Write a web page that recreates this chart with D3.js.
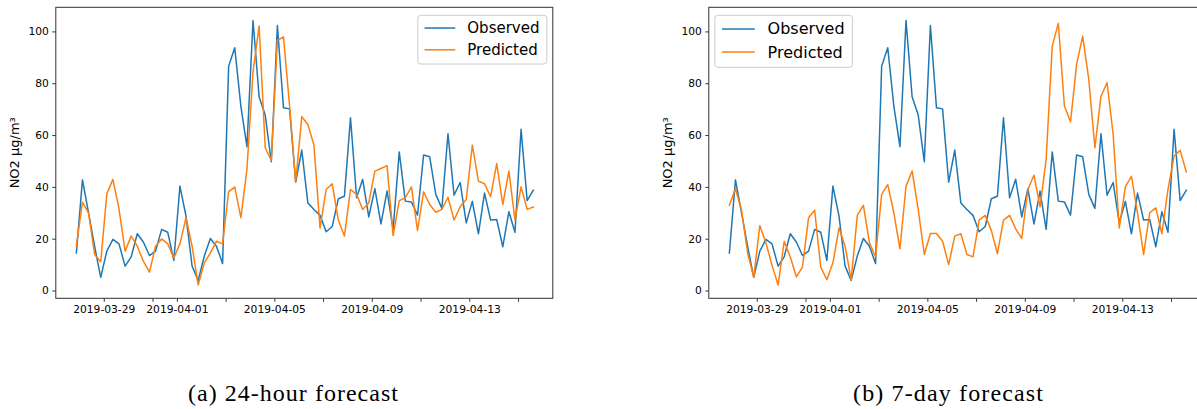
<!DOCTYPE html>
<html>
<head>
<meta charset="utf-8">
<script src="https://cdn.jsdelivr.net/npm/d3@7"></script>
<style>
  body { margin: 0; background: #fff; }
  svg { display: block; }
</style>
</head>
<body>
<svg id="chart" width="1197" height="409"></svg>
<script>
// Six-hourly NO2 series
const startTime = new Date(2019, 2, 27, 21, 0);
const stepHours = 6;
// visible time window of each panel
const xDomain = ["2019-03-27 00:45", "2019-04-16 10:15"];

const observed = [
  14.5, 42.7, 30.0, 17.0, 5.1, 15.2, 19.7, 18.0, 9.4, 13.0,
  21.9, 18.7, 13.5, 15.2, 23.6, 22.5, 11.6, 40.3, 28.7, 9.4,
  3.9, 13.3, 20.1, 17.1, 10.4, 86.6, 93.7, 71.2, 55.5, 104.2,
  74.8, 67.7, 49.7, 102.3, 70.5, 70.1, 41.8, 54.2, 33.8, 31.3,
  29.0, 22.7, 24.7, 35.4, 36.4, 66.7, 35.8, 42.9, 28.4, 39.3,
  25.7, 38.4, 23.6, 53.5, 34.5, 34.2, 29.1, 52.3, 51.6, 37.1,
  31.7, 60.5, 36.8, 41.7, 26.1, 34.4, 21.9, 37.6, 27.2, 27.4,
  16.9, 30.4, 22.5, 62.2, 34.7, 38.7
];

const predicted24h = [
  17.1, 34.1, 30.0, 13.9, 11.1, 37.3, 42.9, 31.5, 15.2, 21.0,
  17.1, 11.3, 7.1, 17.1, 19.9, 18.0, 12.6, 18.0, 28.1, 17.1,
  2.1, 10.7, 14.5, 19.0, 18.0, 38.2, 39.9, 28.1, 46.7, 84.5,
  102.1, 55.1, 50.2, 96.5, 97.9, 71.2, 41.8, 67.1, 64.1, 56.1,
  24.1, 39.0, 41.2, 27.2, 21.0, 39.0, 37.1, 31.3, 33.8, 46.1,
  47.1, 48.2, 21.2, 34.7, 35.8, 40.0, 23.2, 38.1, 33.2, 30.2,
  31.3, 36.0, 27.2, 32.3, 35.1, 56.1, 42.2, 41.2, 36.2, 49.0,
  33.2, 46.1, 27.2, 40.0, 31.3, 32.2
];

const predicted7d = [
  32.9, 39.3, 31.0, 14.5, 5.1, 25.1, 18.4, 9.8, 2.1, 19.0,
  12.9, 5.3, 9.0, 28.1, 31.0, 9.0, 4.2, 10.7, 24.2, 17.1,
  4.2, 29.0, 32.9, 18.4, 13.0, 37.1, 40.9, 30.0, 16.1, 40.3,
  46.1, 31.3, 13.9, 22.0, 22.0, 19.0, 10.0, 21.0, 21.9, 13.9,
  13.0, 27.2, 29.0, 23.2, 14.2, 27.2, 29.0, 23.8, 20.1, 39.0,
  44.5, 32.3, 50.6, 94.3, 103.1, 71.2, 65.1, 87.3, 98.2, 81.5,
  55.1, 75.0, 80.2, 60.2, 24.1, 40.0, 44.1, 30.0, 13.9, 30.0,
  31.9, 21.9, 39.0, 51.9, 54.1, 45.8
];

const yTicks = [0, 20, 40, 60, 80, 100];
const xTickDates = ["2019-03-29", "2019-03-31", "2019-04-01", "2019-04-03", "2019-04-05",
                    "2019-04-07", "2019-04-09", "2019-04-11", "2019-04-13", "2019-04-15"];
const xTickLabels = ["2019-03-29", "", "2019-04-01", "", "2019-04-05",
                     "", "2019-04-09", "", "2019-04-13", ""];
const seriesNames = ["Observed", "Predicted"];
const seriesColors = ["#1f77b4", "#ff7f0e"];
const captions = ["(a) 24-hour forecast", "(b) 7-day forecast"];
const yLabel = "NO2 µg/m³";

const times = observed.map((_, i) => d3.timeHour.offset(startTime, i * stepHours));
const parseDay = d3.timeParse("%Y-%m-%d");
const parseMinute = d3.timeParse("%Y-%m-%d %H:%M");
const tickTimes = xTickDates.map(parseDay);

const svg = d3.select("#chart");
const tickFont = "DejaVu Sans, sans-serif";

const panels = [
  { left: 55.8, pred: predicted24h, legendSide: "right", legendFont: 15,
    caption: captions[0], captionX: 293, captionW: 210 },
  { left: 708.8, pred: predicted7d, legendSide: "left", legendFont: 16,
    caption: captions[1], captionX: 948, captionW: 190 }
];

const plotW = 497, plotTop = 7.3, plotBottom = 298.3;

panels.forEach((p, pi) => {
  const g = svg.append("g");
  const series = [observed, p.pred];

  const x = d3.scaleTime()
    .domain(xDomain.map(parseMinute))
    .range([p.left, p.left + plotW]);

  // 5% padding around the value extent
  const allVals = series.flat();
  const [v0, v1] = d3.extent(allVals);
  const padV = (v1 - v0) * 0.05;
  const y = d3.scaleLinear().domain([v0 - padV, v1 + padV]).range([plotBottom, plotTop]);

  const clipId = "clip" + pi;
  g.append("clipPath").attr("id", clipId)
    .append("rect").attr("x", p.left).attr("y", plotTop)
    .attr("width", plotW).attr("height", plotBottom - plotTop);

  // observed and predicted lines
  const line = d3.line().x((d, i) => x(times[i])).y(d => y(d));
  series.forEach((s, si) => {
    g.append("path").datum(s)
      .attr("clip-path", `url(#${clipId})`)
      .attr("fill", "none")
      .attr("stroke", seriesColors[si])
      .attr("stroke-width", 1.5)
      .attr("stroke-linejoin", "round")
      .attr("stroke-linecap", "square")
      .attr("d", line);
  });

  // axes
  const xAxis = d3.axisBottom(x).tickValues(tickTimes)
    .tickFormat((d, i) => xTickLabels[i]).tickSize(3.5).tickPadding(3.5);
  const yAxis = d3.axisLeft(y).tickValues(yTicks).tickSize(3.5).tickPadding(3.5);

  const gx = g.append("g").attr("transform", `translate(0,${plotBottom})`).call(xAxis);
  const gy = g.append("g").attr("transform", `translate(${p.left},0)`).call(yAxis);
  [gx, gy].forEach(ax => {
    ax.select(".domain").remove();
    ax.selectAll("line").attr("stroke", "#000").attr("stroke-width", 0.8);
    ax.selectAll("text").attr("font-family", tickFont).attr("font-size", 10.7).attr("fill", "#000");
  });

  // frame
  g.append("rect")
    .attr("x", p.left).attr("y", plotTop)
    .attr("width", plotW).attr("height", plotBottom - plotTop)
    .attr("fill", "none").attr("stroke", "#333").attr("stroke-width", 1);

  // y label
  g.append("text")
    .attr("transform", `translate(${p.left - 37},${(plotTop + plotBottom) / 2}) rotate(-90)`)
    .attr("text-anchor", "middle")
    .attr("font-family", tickFont).attr("font-size", 13)
    .text(yLabel);

  // legend
  const lf = p.legendFont;
  const lw = lf * 8.6, lh = lf * 3.25;
  const lx = p.legendSide === "right" ? p.left + plotW - 6 - lw : p.left + 6;
  const ly = plotTop + 8;
  const lg = g.append("g").attr("transform", `translate(${lx},${ly})`);
  lg.append("rect").attr("width", lw).attr("height", lh).attr("rx", 3)
    .attr("fill", "#fff").attr("fill-opacity", 0.8)
    .attr("stroke", "#ccc").attr("stroke-width", 1);
  seriesNames.forEach((name, i) => {
    const cy = lf * 0.85 + i * lf * 1.45;
    lg.append("line").attr("x1", lf * 0.45).attr("x2", lf * 2.5)
      .attr("y1", cy).attr("y2", cy)
      .attr("stroke", seriesColors[i]).attr("stroke-width", 1.5);
    lg.append("text").attr("x", lf * 3.3).attr("y", cy)
      .attr("dy", "0.35em")
      .attr("font-family", tickFont).attr("font-size", lf)
      .text(name);
  });

  // caption below the panel
  svg.append("text")
    .attr("x", p.captionX).attr("y", 401)
    .attr("text-anchor", "middle")
    .attr("font-family", "Liberation Serif, serif").attr("font-size", 24)
    .attr("textLength", p.captionW).attr("lengthAdjust", "spacing")
    .text(p.caption);
});
</script>
</body>
</html>
